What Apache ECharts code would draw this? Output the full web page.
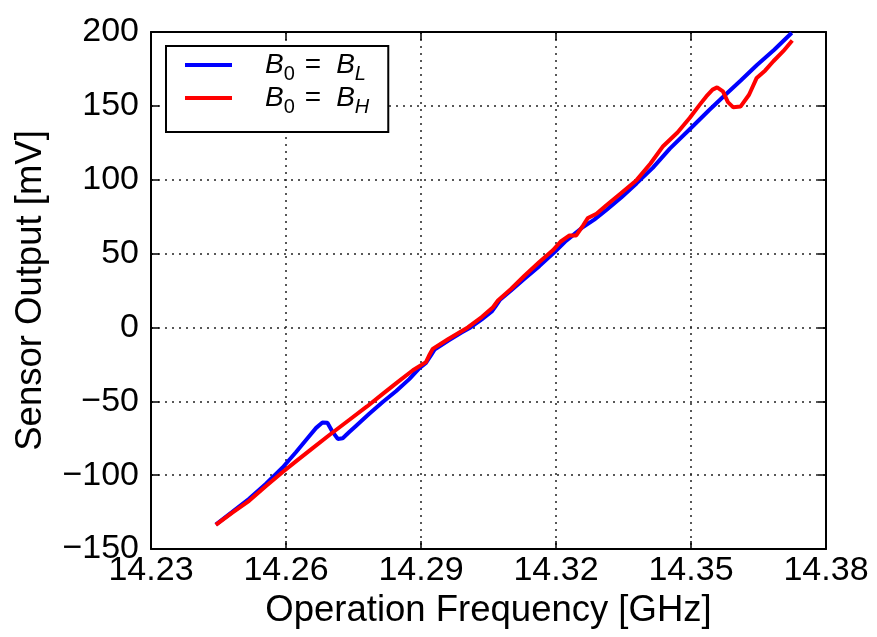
<!DOCTYPE html>
<html>
<head>
<meta charset="utf-8">
<script src="https://cdn.jsdelivr.net/npm/echarts@6/dist/echarts.min.js"></script>
<style>
  html, body { margin: 0; padding: 0; background: #fff; }
  #chart { width: 877px; height: 637px; }
</style>
</head>
<body>
<div id="chart"></div>
<script>
// blue trace, B0 = BL
var blueFreq = [14.2444, 14.2480, 14.2518, 14.2555, 14.2592, 14.2622, 14.2645, 14.2667, 14.2681, 14.2692,
  14.2702, 14.2715, 14.2726, 14.2740, 14.2756, 14.2785, 14.2815, 14.2845, 14.2874, 14.2895,
  14.2911, 14.2922, 14.2930, 14.2960, 14.2990, 14.3010, 14.3035, 14.3058, 14.3066, 14.3075,
  14.3100, 14.3130, 14.3163, 14.3197, 14.3220, 14.3238, 14.3260, 14.3285, 14.3312, 14.3345,
  14.3379, 14.3415, 14.3453, 14.3500, 14.3540, 14.3571, 14.3610, 14.3646, 14.3685, 14.3724];
var blueVal = [-133.5, -125, -116, -106, -95, -84.5, -76, -68, -64.3, -64.5,
  -70, -75.5, -75, -71, -66.5, -58.5, -50.5, -43, -35, -28,
  -24, -19, -15, -9, -3.5, 0, 5.5, 11, 14.5, 18.5,
  25, 33, 41.5, 51, 58, 62.5, 68, 73, 79.5, 88,
  97.5, 108, 121, 135, 147, 156, 167, 177.5, 188, 199.5];

// red trace, B0 = BH
var redFreq = [14.2444, 14.2480, 14.2518, 14.2555, 14.2592, 14.2622, 14.2660, 14.2700, 14.2741, 14.2780,
  14.2815, 14.2848, 14.2882, 14.2911, 14.2918, 14.2926, 14.2960, 14.3004, 14.3035, 14.3060,
  14.3071, 14.3100, 14.3130, 14.3163, 14.3193, 14.3210, 14.3230, 14.3245, 14.3260, 14.3271,
  14.3290, 14.3312, 14.3345, 14.3379, 14.3410, 14.3438, 14.3470, 14.3497, 14.3520, 14.3534,
  14.3548, 14.3558, 14.3571, 14.3582, 14.3594, 14.3610, 14.3629, 14.3646, 14.3665, 14.3683,
  14.3705, 14.3725];
var redVal = [-133.7, -125.5, -117.4, -107.5, -98, -90.7, -81.5, -72, -62.5, -53.5,
  -45, -37, -29, -23.5, -19, -14.5, -8, 0, 7, 13.7,
  18.2, 26, 35, 44.3, 52.2, 58, 62.3, 62.3, 69, 74.1,
  77, 82.7, 91, 99.7, 111, 122.7, 132, 141.8, 151, 156.4,
  161, 162.5, 159.8, 152.5, 149, 149.5, 157.5, 168.9, 174, 180.2,
  187, 194.2];

var seriesNames = ['B0 = BL', 'B0 = BH'];
var legendText = {
  'B0 = BL': '{b|B}{s|0}{t|=}{b|B}{si|L}',
  'B0 = BH': '{b|B}{s|0}{t|=}{b|B}{si|H}'
};

var FONT = 'Liberation Sans, Arial, sans-serif';

function zip(xs, ys) {
  return xs.map(function (x, i) { return [x, ys[i]]; });
}

var chart = echarts.init(document.getElementById('chart'));

var tickStyle = { show: true, inside: true, length: 8, lineStyle: { color: '#000', width: 1.5 } };
var frameLine = { show: true, onZero: false, lineStyle: { color: '#000', width: 2 } };

var option = {
  animation: false,
  backgroundColor: '#fff',
  grid: { left: 151, right: 51, top: 32, bottom: 88, outerBoundsMode: 'none' },
  legend: {
    orient: 'vertical',
    left: 166,
    top: 46,
    padding: [5, 19, 15, 19],
    backgroundColor: '#fff',
    borderColor: '#000',
    borderWidth: 2,
    borderRadius: 0,
    itemWidth: 47,
    itemHeight: 4,
    itemGap: 0,
    icon: 'rect',
    data: seriesNames,
    formatter: function (name) { return legendText[name]; },
    textStyle: {
      padding: [0, 0, 0, 28],
      rich: {
        b: { fontFamily: FONT, fontStyle: 'italic', fontSize: 28, lineHeight: 38, color: '#000' },
        s: { fontFamily: FONT, fontSize: 20, lineHeight: 22, verticalAlign: 'bottom', color: '#000' },
        si: { fontFamily: FONT, fontStyle: 'italic', fontSize: 20, lineHeight: 22, verticalAlign: 'bottom', color: '#000' },
        t: { fontFamily: FONT, fontSize: 28, lineHeight: 38, color: '#000', padding: [0, 15, 0, 10] }
      }
    }
  },
  xAxis: [{
    type: 'value',
    min: 14.23,
    max: 14.38,
    interval: 0.03,
    name: 'Operation Frequency [GHz]',
    nameLocation: 'middle',
    nameGap: 40,
    nameTextStyle: { fontFamily: FONT, fontSize: 36.5, color: '#000' },
    axisLine: frameLine,
    axisTick: tickStyle,
    axisLabel: {
      fontFamily: FONT, fontSize: 34, color: '#000', margin: 5,
      formatter: function (v) { return v.toFixed(2); }
    },
    splitLine: { show: true, lineStyle: { color: '#222', width: 1.5, type: [2, 5] } }
  }, {
    type: 'value',
    position: 'top',
    min: 14.23,
    max: 14.38,
    interval: 0.03,
    axisLine: frameLine,
    axisTick: tickStyle,
    axisLabel: { show: false },
    splitLine: { show: false }
  }],
  yAxis: [{
    type: 'value',
    min: -150,
    max: 200,
    interval: 50,
    name: 'Sensor Output [mV]',
    nameLocation: 'middle',
    nameGap: 102,
    nameTextStyle: { fontFamily: FONT, fontSize: 36.5, color: '#000' },
    axisLine: frameLine,
    axisTick: tickStyle,
    axisLabel: {
      fontFamily: FONT, fontSize: 34, color: '#000', margin: 12,
      formatter: function (v) { return String(v).replace('-', '\u2212'); }
    },
    splitLine: { show: true, lineStyle: { color: '#222', width: 1.5, type: [2, 5] } }
  }, {
    type: 'value',
    position: 'right',
    min: -150,
    max: 200,
    interval: 50,
    axisLine: frameLine,
    axisTick: tickStyle,
    axisLabel: { show: false },
    splitLine: { show: false }
  }],
  series: [
    {
      name: seriesNames[0],
      type: 'line',
      showSymbol: false,
      symbol: 'none',
      color: '#0000ff',
      lineStyle: { color: '#0000ff', width: 4 },
      data: zip(blueFreq, blueVal)
    },
    {
      name: seriesNames[1],
      type: 'line',
      showSymbol: false,
      symbol: 'none',
      color: '#ff0000',
      lineStyle: { color: '#ff0000', width: 4 },
      data: zip(redFreq, redVal)
    }
  ]
};

chart.setOption(option);
</script>
</body>
</html>
